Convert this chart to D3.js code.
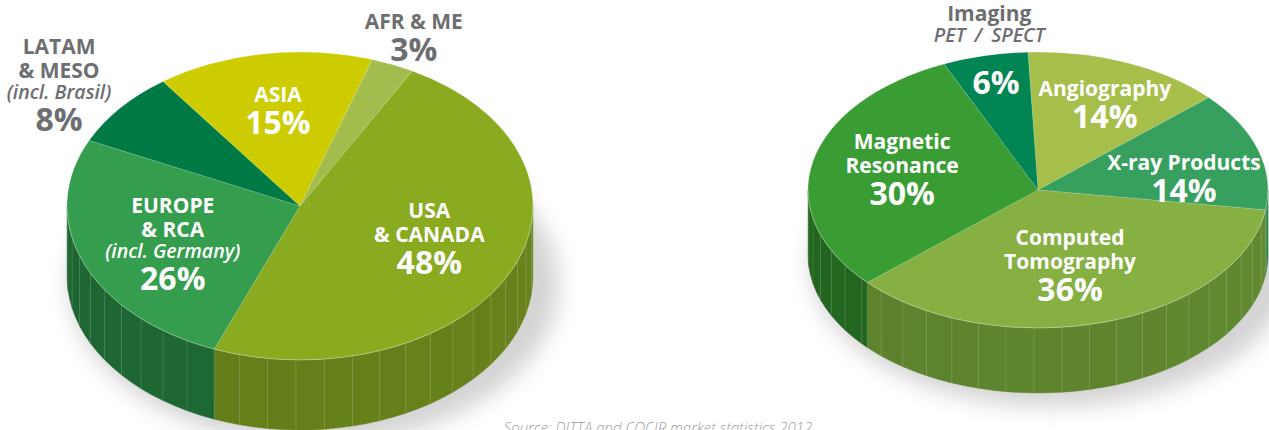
<!DOCTYPE html>
<html>
<head>
<meta charset="utf-8">
<script src="https://d3js.org/d3.v7.min.js"></script>
<style>
  body { margin: 0; background: #fff; font-family: 'Open Sans', sans-serif; }
  svg { display: block; }
</style>
</head>
<body>
<div id="chart"></div>
<script>
// --- data: share of the market by region (left) and by modality (right), in %
const regionNames  = [["AFR & ME"], ["USA", "& CANADA"], ["EUROPE", "& RCA", "(incl. Germany)"], ["LATAM", "& MESO", "(incl. Brasil)"], ["ASIA"]];
const regionValues = [3, 48, 26, 8, 15];

const modalityNames  = [["Angiography"], ["X-ray Products"], ["Computed", "Tomography"], ["Magnetic", "Resonance"], ["Imaging", "PET / SPECT"]];
const modalityValues = [14, 14, 36, 30, 6];

const sourceNote = "Source: DITTA and COCIR market statistics 2012";

// --- styles
const regionTop   = ["#a3bc4e", "#8aab20", "#349e4e", "#007a45", "#cccc00"];
const regionSide  = ["#7d9438", "#67821a", "#1f6b35", "#00592f", "#9a9a00"];
const modalityTop  = ["#a6bf4b", "#37a05e", "#86b042", "#3a9d34", "#008553"];
const modalitySide = ["#7e9435", "#257a45", "#60882f", "#256b21", "#006140"];
const grey = "#6d6e71";

const W = 1269, H = 430;
const rad = d => d * Math.PI / 180;

const svg = d3.select("#chart").append("svg")
    .attr("width", W).attr("height", H);

const defs = svg.append("defs");
defs.append("filter").attr("id", "soft")
    .attr("x", "-30%").attr("y", "-30%").attr("width", "160%").attr("height", "160%")
  .append("feGaussianBlur").attr("stdDeviation", 11);

// label placement: angle nudge (deg) from slice middle and radial fraction of the ellipse
const regionPlace = [
  {dA: 0.6, f: 1.2, outer: true},
  {dA: -4.3, f: 0.594},
  {dA: -2.9, f: 0.6},
  {dA: -2.3, f: 1.3, outer: true},
  {dA: 0.3, f: 0.627}
];
const modalityPlace = [
  {dA: 2.4, f: 0.685},
  {dA: 9.4, f: 0.64},
  {dA: 2.7, f: 0.568},
  {dA: 2.5, f: 0.61},
  {dA: 0.1, f: 0.8, nameOut: {dA: 3.3, f: 1.22}}
];

const step = {name: 24, ital: 21, pct: 32};
const capH = {name: 15, ital: 13, pct: 22};
const fontOf = {
  name: {size: 21, weight: 700, style: "normal"},
  ital: {size: 19.5, weight: 600, style: "italic"},
  pct:  {size: 32, weight: 700, style: "normal"}
};

function drawPie(cfg, names, values, tops, sides, place) {
  const {cx, cy, rx, ry, depth, start} = cfg;
  const g = svg.append("g");
  const P = (a, dy = 0) => [cx + rx * Math.sin(a), cy - ry * Math.cos(a) + dy];

  // soft shadow
  g.append("ellipse")
    .attr("cx", cx + 14).attr("cy", cy + depth + 8)
    .attr("rx", rx + 12).attr("ry", ry + 6)
    .attr("fill", "#000").attr("opacity", 0.17)
    .attr("filter", "url(#soft)");

  const arcs = d3.pie().sort(null).value(d => d)
    .startAngle(rad(start)).endAngle(rad(start) + 2 * Math.PI)(values);

  // side wall, front half only, cut into facets
  const fstep = rad(7);
  const sideG = g.append("g");
  arcs.forEach((a, i) => {
    const lo = Math.max(a.startAngle, Math.PI / 2), hi = Math.min(a.endAngle, 3 * Math.PI / 2);
    if (hi <= lo) return;
    const cuts = [lo];
    for (let t = Math.PI / 2 + fstep; t < hi; t += fstep) if (t > lo + 0.01) cuts.push(t);
    cuts.push(hi);
    for (let k = 0; k < cuts.length - 1; k++) {
      const t0 = cuts[k], t1 = cuts[k + 1];
      const a0 = P(t0), a1 = P(t1), b0 = P(t0, depth), b1 = P(t1, depth);
      const shade = (t0 - Math.PI / 2) / Math.PI; // 0 right .. 1 left
      const c = d3.color(sides[i]).darker(shade * 0.22 - 0.06 + (k % 2 ? 0.03 : 0));
      sideG.append("path")
        .attr("d", `M${a0}A${rx},${ry} 0 0 1 ${a1}L${b1}A${rx},${ry} 0 0 0 ${b0}Z`)
        .attr("fill", c.formatHex())
        .attr("stroke", c.formatHex()).attr("stroke-width", 0.4);
      sideG.append("line")
        .attr("x1", a0[0]).attr("y1", a0[1]).attr("x2", b0[0]).attr("y2", b0[1])
        .attr("stroke", "#fff").attr("stroke-opacity", 0.13).attr("stroke-width", 1);
    }
  });

  // top surface
  g.append("g").selectAll("path").data(arcs).join("path")
    .attr("d", a => {
      const p0 = P(a.startAngle), p1 = P(a.endAngle);
      const large = a.endAngle - a.startAngle > Math.PI ? 1 : 0;
      return `M${cx},${cy}L${p0}A${rx},${ry} 0 ${large} 1 ${p1}Z`;
    })
    .attr("fill", (a, i) => tops[i])
    .attr("stroke", "#fff").attr("stroke-opacity", 0.25).attr("stroke-width", 0.6);

  // rim highlight
  g.append("path")
    .attr("d", `M${P(Math.PI / 2)}A${rx},${ry} 0 0 1 ${P(3 * Math.PI / 2)}`)
    .attr("fill", "none").attr("stroke", "#fff").attr("stroke-opacity", 0.3).attr("stroke-width", 0.8);

  // labels: one text per block, one tspan per line
  const block = (lines, anchor, color) => {
    let y = 0;
    const ys = lines.map((l, j) => { if (j > 0) y += step[l.type]; return y; });
    const top = -capH[lines[0].type], bottom = ys[ys.length - 1];
    const off = anchor[1] - (top + bottom) / 2;
    const t = g.append("text")
      .attr("text-anchor", "middle")
      .attr("fill", color);
    lines.forEach((l, j) => {
      const f = fontOf[l.type];
      t.append("tspan")
        .attr("x", anchor[0]).attr("y", ys[j] + off)
        .attr("font-size", f.size).attr("font-weight", f.weight).attr("font-style", f.style)
        .attr("word-spacing", l.text.includes("/") ? 4 : null)
        .text(l.text);
    });
  };
  const anchorAt = (a, p) => {
    const m = (a.startAngle + a.endAngle) / 2 + rad(p.dA);
    return [cx + p.f * rx * Math.sin(m), cy - p.f * ry * Math.cos(m)];
  };
  arcs.forEach((a, i) => {
    const p = place[i];
    const nameLines = names[i].map(t => ({text: t, type: (t.startsWith("(") || t.includes("/")) ? "ital" : "name"}));
    const pctLine = {text: values[i] + "%", type: "pct"};
    if (p.nameOut) {
      block(nameLines, anchorAt(a, p.nameOut), grey);
      block([pctLine], anchorAt(a, p), "#fff");
    } else {
      block(nameLines.concat([pctLine]), anchorAt(a, p), p.outer ? grey : "#fff");
    }
  });
}

drawPie({cx: 300, cy: 206, rx: 233, ry: 154, depth: 70, start: 18},
        regionNames, regionValues, regionTop, regionSide, regionPlace);
drawPie({cx: 1038, cy: 190, rx: 230, ry: 138, depth: 65, start: -2.5},
        modalityNames, modalityValues, modalityTop, modalitySide, modalityPlace);

svg.append("text")
  .attr("x", 658).attr("y", 433)
  .attr("text-anchor", "middle")
  .attr("font-size", 15).attr("font-style", "italic").attr("font-weight", 300)
  .attr("fill", "#9d9d9d")
  .text(sourceNote);
</script>
</body>
</html>
